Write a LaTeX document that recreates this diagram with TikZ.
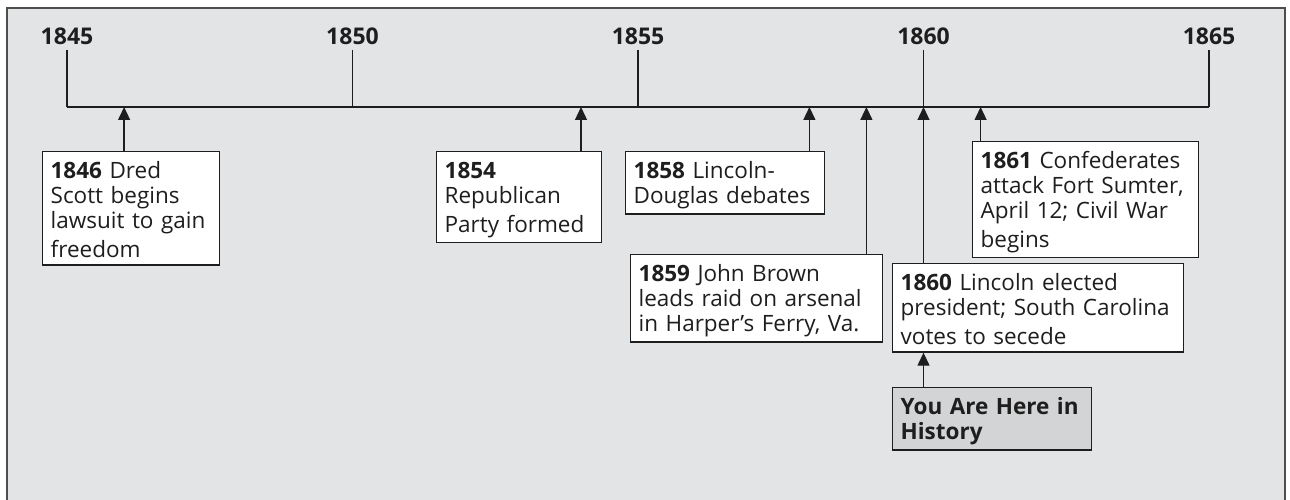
\documentclass[tikz,border=0pt]{standalone}
\usepackage{fontspec}
\setmainfont{Open Sans}
\usetikzlibrary{arrows.meta}
\definecolor{bg}{HTML}{E3E4E5}
\definecolor{framec}{HTML}{4D4F4F}
\definecolor{yah}{HTML}{D3D4D6}
\definecolor{ink}{HTML}{1E1E1E}
\newcommand\tstrut{\rule[-3pt]{0pt}{25pt}}
\tikzset{
  evt/.style={draw=ink, fill=white, line width=1.3pt, anchor=north west,
    align=left, inner xsep=8pt, inner ysep=5pt,
    font=\fontsize{22.5}{25}\selectfont, text=ink},
  yearlbl/.style={anchor=base, inner sep=0pt, font=\bfseries\fontsize{23}{26}\selectfont, text=ink},
  tl/.style={draw=ink, line width=1.3pt},
  arr/.style={draw=ink, line width=1.3pt, -{Triangle[width=12pt,length=13pt]}}
}
\begin{document}
\begin{tikzpicture}[x=1pt,y=-1pt]
\useasboundingbox (0,0) rectangle (1290,500);
% background frame
\fill[bg] (7,8) rectangle (1285,512);
\draw[framec, line width=2.5pt] (7,512) -- (7,8) -- (1285,8) -- (1285,512);

% timeline coordinates
\coordinate (t1845) at (67,107);
\coordinate (t1850) at (352.5,107);
\coordinate (t1855) at (638,107);
\coordinate (t1860) at (923.5,107);
\coordinate (t1865) at (1209,107);
\coordinate (k1845) at (67,50);
\coordinate (k1850) at (352.5,50);
\coordinate (k1855) at (638,50);
\coordinate (k1860) at (923.5,50);
\coordinate (k1865) at (1209,50);
\coordinate (y1846) at (124.1,107);
\coordinate (y1854) at (581,107);
\coordinate (y1858) at (809.4,107);
\coordinate (y1859) at (866.4,107);
\coordinate (y1861) at (980.6,107);

\draw[tl] (t1845) -- (t1865);
\foreach \y in {1845,1850,1855,1860,1865}{
  \draw[tl] (k\y) -- (t\y);
}
\node[yearlbl] (l1845) at (67,45) {1845};
\node[yearlbl] (l1850) at (352.5,45) {1850};
\node[yearlbl] (l1855) at (638,45) {1855};
\node[yearlbl] (l1860) at (923.5,45) {1860};
\node[yearlbl] (l1865) at (1209,45) {1865};

% event boxes
\node[evt, text width=161pt] (b1846) at (42,151)
  {\tstrut\textbf{1846} Dred\\Scott begins\\lawsuit to gain\\freedom\tstrut};
\node[evt, text width=149pt] (b1854) at (436,151)
  {\tstrut\textbf{1854}\\Republican\\Party formed\tstrut};
\node[evt, text width=183pt] (b1858) at (625,151)
  {\tstrut\textbf{1858} Lincoln-\\Douglas debates\tstrut};
\node[evt, text width=236pt] (b1859) at (630,254)
  {\tstrut\textbf{1859} John Brown\\leads raid on arsenal\\in Harper’s Ferry, Va.\tstrut};
\node[evt, text width=275pt] (b1860) at (892,263)
  {\tstrut\textbf{1860} Lincoln elected\\president; South Carolina\\votes to secede\tstrut};
\node[evt, text width=210pt] (b1861) at (972,141)
  {\tstrut\textbf{1861} Confederates\\attack Fort Sumter,\\April 12; Civil War\\begins\tstrut};
\node[evt, fill=yah, text width=183pt, font=\bfseries\fontsize{22.5}{25}\selectfont] (byou) at (892,387)
  {\tstrut You Are Here in\\History\tstrut};

% connectors
\draw[arr] (b1846.north -| y1846) -- (y1846);
\draw[arr] (b1854.north -| y1854) -- (y1854);
\draw[arr] (b1858.north -| y1858) -- (y1858);
\draw[arr] (b1859.north -| y1859) -- (y1859);
\draw[arr] (b1860.north -| t1860) -- (t1860);
\draw[arr] (b1861.north -| y1861) -- (y1861);
\draw[arr] (byou.north -| t1860) -- (b1860.south -| t1860);
\end{tikzpicture}
\end{document}
